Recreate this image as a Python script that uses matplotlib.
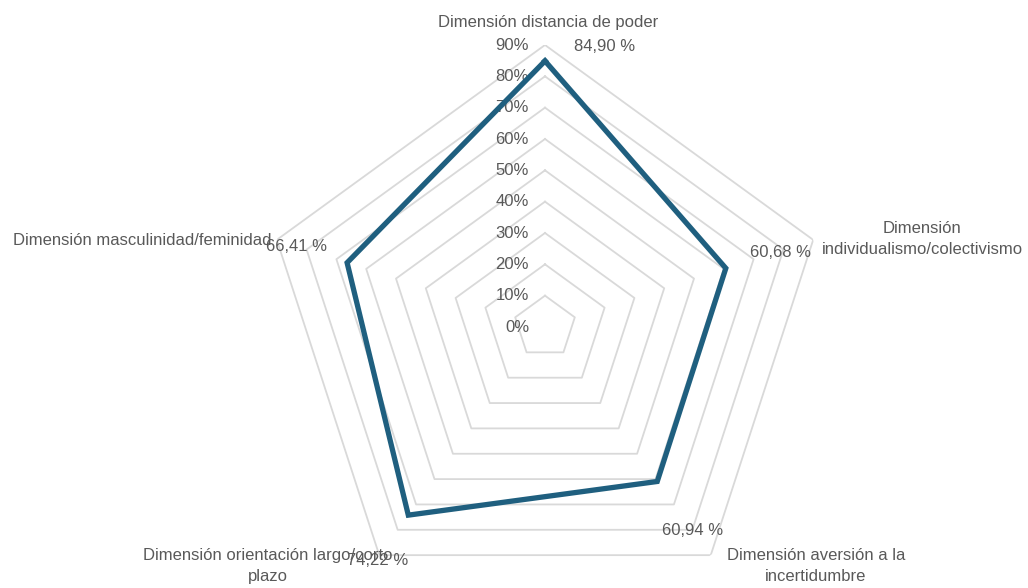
import numpy as np
import matplotlib
matplotlib.use("Agg")
import matplotlib.pyplot as plt
from matplotlib import font_manager

categories = ['Dimensión distancia de poder',
              'Dimensión\nindividualismo/colectivismo',
              'Dimensión aversión a la\nincertidumbre',
              'Dimensión orientación largo/corto\nplazo',
              'Dimensión masculinidad/feminidad']
values = [84.90, 60.68, 60.94, 74.22, 66.41]
value_labels = ['84,90 %', '60,68 %', '60,94 %', '74,22 %', '66,41 %']
ticks = [0, 10, 20, 30, 40, 50, 60, 70, 80, 90]
tick_labels = ['0%', '10%', '20%', '30%', '40%', '50%', '60%', '70%', '80%', '90%']

names = {f.name for f in font_manager.fontManager.ttflist}
fam = 'Liberation Sans Narrow' if 'Liberation Sans Narrow' in names else 'Liberation Sans'
plt.rcParams['font.family'] = [fam, 'DejaVu Sans']

txt = '#595959'
grid_c = '#d9d9d9'
line_c = '#1f5f7f'

W, H = 1028, 588
fig = plt.figure(figsize=(W / 100, H / 100), dpi=100)
cx, cy, R = 545, H - 327, 282
ax = fig.add_axes([(cx - R) / W, (cy - R) / H, 2 * R / W, 2 * R / H], projection='polar')
ax.set_theta_offset(np.pi / 2)
ax.set_theta_direction(-1)
ax.set_ylim(0, 90)
ax.grid(False)
ax.spines['polar'].set_visible(False)
ax.set_xticks([])
ax.set_yticks([])
ax.patch.set_alpha(0)

n = len(categories)
theta = np.linspace(0, 2 * np.pi, n, endpoint=False)
tc = np.append(theta, theta[0])

# pentagon rings
for t in ticks[1:]:
    ax.plot(tc, [t] * (n + 1), color=grid_c, lw=1.3, zorder=1)
for t, lab in zip(ticks, tick_labels):
    ax.annotate(lab, xy=(0, t), xytext=(-16, 0), textcoords='offset pixels',
                ha='right', va='center', fontsize=12, color=txt, zorder=2)

vals = np.append(values, values[0])
ax.plot(tc, vals, color=line_c, lw=3.8, zorder=3, solid_joinstyle='miter')

val_off = [(60, 14), (55, 16), (35, -49), (-31, -45), (-51, 16)]
for th, v, lab, off in zip(theta, values, value_labels, val_off):
    ax.annotate(lab, xy=(th, v), xytext=off, textcoords='offset pixels',
                ha='center', va='center', fontsize=12, color=txt, zorder=4)

cat_off = [(3, 23, 'center'), (109, 1, 'center'), (105, -11, 'center'),
           (-111, -11, 'center'), (-5, -1, 'right')]
for th, lab, (dx, dy, ha) in zip(theta, categories, cat_off):
    ax.annotate(lab, xy=(th, 90), xytext=(dx, dy), textcoords='offset pixels',
                ha=ha, va='center', fontsize=12, color=txt, linespacing=1.55,
                annotation_clip=False, zorder=4)

fig.savefig('out.png', dpi=100, facecolor='white')
